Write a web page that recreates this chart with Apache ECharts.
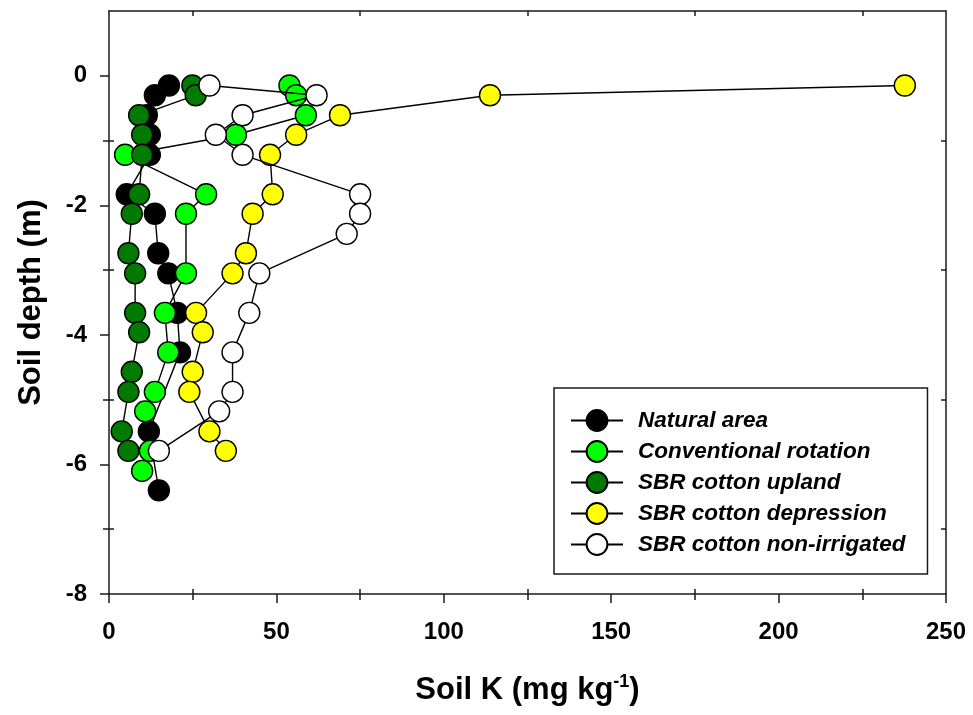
<!DOCTYPE html>
<html>
<head>
<meta charset="utf-8">
<script src="https://cdn.jsdelivr.net/npm/echarts@6/dist/echarts.min.js"></script>
<style>
  html, body { margin: 0; padding: 0; background: #fff; }
  #chart { width: 973px; height: 715px; }
</style>
</head>
<body>
<div id="chart"></div>
<script>
// Soil potassium profiles by land use (depth in m, K in mg/kg)
const seriesNames = [
  'Natural area',
  'Conventional rotation',
  'SBR cotton upland',
  'SBR cotton depression',
  'SBR cotton non-irrigated'
];

const depthNatural = [-0.15, -0.30, -0.61, -0.91, -1.22, -1.83, -2.13, -2.74, -3.05, -3.66, -4.27, -5.49, -6.40];
const kNatural     = [17.9, 13.7, 11.3, 12.2, 12.2, 5.3, 13.7, 14.7, 17.7, 20.4, 21.2, 11.9, 14.9];

const depthConventional = [-0.15, -0.30, -0.61, -0.91, -1.22, -1.83, -2.13, -3.05, -3.66, -4.27, -4.88, -5.18, -5.79, -6.10];
const kConventional     = [53.9, 55.9, 58.8, 37.9, 4.8, 29.0, 23.0, 23.0, 16.7, 17.7, 13.7, 10.8, 12.2, 9.9];

const depthUpland = [-0.15, -0.30, -0.61, -0.91, -1.22, -1.83, -2.13, -2.74, -3.05, -3.66, -3.96, -4.57, -4.88, -5.49, -5.79];
const kUpland     = [24.9, 25.9, 9.0, 9.9, 9.9, 9.0, 6.8, 5.8, 7.8, 7.8, 9.0, 6.8, 5.8, 3.8, 5.8];

const depthDepression = [-0.15, -0.30, -0.61, -0.91, -1.22, -1.83, -2.13, -2.74, -3.05, -3.66, -3.96, -4.57, -4.88, -5.49, -5.79];
const kDepression     = [237.7, 113.8, 69.0, 55.9, 48.1, 48.9, 42.9, 40.9, 36.9, 26.0, 28.0, 25.0, 24.0, 30.0, 34.9];

const depthNonIrrigated = [-0.15, -0.30, -0.61, -0.91, -1.22, -1.83, -2.13, -2.44, -3.05, -3.66, -4.27, -4.88, -5.18, -5.79];
const kNonIrrigated     = [30.0, 62.0, 39.9, 31.9, 39.9, 75.0, 75.0, 71.0, 44.9, 41.9, 36.9, 36.9, 32.9, 14.9];

const xMajorTicks = [0, 50, 100, 150, 200, 250];
const xMinorTicks = [25, 75, 125, 175, 225];
const yMajorTicks = [-8, -6, -4, -2, 0];
const yMinorTicks = [-7, -5, -3, -1];

const fillColors = ['#000000', '#00ff00', '#007a00', '#ffff00', '#ffffff'];

const profiles = [
  [kNatural, depthNatural],
  [kConventional, depthConventional],
  [kUpland, depthUpland],
  [kDepression, depthDepression],
  [kNonIrrigated, depthNonIrrigated]
];

const FONT = '"Liberation Sans", Arial, sans-serif';
const AXIS_COLOR = '#1a1a1a';
const axisLineStyle = { color: AXIS_COLOR, width: 1.5 };
const plotRect = { left: 109, right: 27, top: 11, bottom: 121, containLabel: false };

function pairs(xs, ys) {
  return xs.map((x, i) => [x, ys[i]]);
}

// Bare value axis: only what the caller switches on is drawn
function tickAxis(range, extra) {
  return Object.assign({
    type: 'value',
    gridIndex: 0,
    splitLine: { show: false },
    axisLine: { show: false, onZero: false, lineStyle: axisLineStyle },
    axisLabel: { show: false },
    axisTick: { show: false }
  }, range, extra);
}

function ticks(values, inside, length) {
  return { show: true, inside: inside, length: length, lineStyle: axisLineStyle, customValues: values };
}

const xRange = { min: 0, max: 250 };
const yRange = { min: -8, max: 1 };

const chart = echarts.init(document.getElementById('chart'), null, { renderer: 'canvas' });

chart.setOption({
  animation: false,
  backgroundColor: '#ffffff',
  // three overlapping grids so minor ticks can cross the axis line
  grid: [plotRect, plotRect, plotRect],
  xAxis: [
    tickAxis(xRange, {
      gridIndex: 0,
      position: 'bottom',
      axisLine: { show: true, onZero: false, lineStyle: axisLineStyle },
      axisTick: ticks(xMajorTicks, false, 9),
      axisLabel: {
        show: true, margin: 26, customValues: xMajorTicks,
        color: '#000', fontFamily: FONT, fontWeight: 'bold', fontSize: 24
      },
      name: 'Soil K (mg kg{sup|-1})',
      nameLocation: 'middle',
      nameGap: 79,
      nameTextStyle: {
        color: '#000', fontFamily: FONT, fontWeight: 'bold', fontSize: 31,
        rich: {
          sup: { fontFamily: FONT, fontWeight: 'bold', fontSize: 18, color: '#000', padding: [0, 0, 16, 0] }
        }
      }
    }),
    tickAxis(xRange, {
      gridIndex: 0,
      position: 'top',
      axisLine: { show: true, onZero: false, lineStyle: axisLineStyle },
      axisTick: ticks(xMinorTicks, true, 5)
    }),
    tickAxis(xRange, { gridIndex: 1, position: 'bottom', axisTick: ticks(xMinorTicks, false, 6) }),
    tickAxis(xRange, { gridIndex: 2, position: 'bottom', axisTick: ticks(xMinorTicks, true, 5) })
  ],
  yAxis: [
    tickAxis(yRange, {
      gridIndex: 0,
      position: 'left',
      axisLine: { show: true, onZero: false, lineStyle: axisLineStyle },
      axisTick: ticks(yMajorTicks, false, 9),
      axisLabel: {
        show: true, margin: 22, customValues: yMajorTicks,
        color: '#000', fontFamily: FONT, fontWeight: 'bold', fontSize: 24
      },
      name: 'Soil depth (m)',
      nameLocation: 'middle',
      nameGap: 62,
      nameRotate: 90,
      nameTextStyle: { color: '#000', fontFamily: FONT, fontWeight: 'bold', fontSize: 31 }
    }),
    tickAxis(yRange, {
      gridIndex: 0,
      position: 'right',
      axisLine: { show: true, onZero: false, lineStyle: axisLineStyle },
      axisTick: ticks(yMinorTicks, true, 5)
    }),
    tickAxis(yRange, { gridIndex: 1, position: 'left', axisTick: ticks(yMinorTicks, false, 6) }),
    tickAxis(yRange, { gridIndex: 2, position: 'left', axisTick: ticks(yMinorTicks, true, 5) })
  ],
  legend: {
    orient: 'vertical',
    left: 554,
    top: 388,
    padding: [21, 22, 18, 16],
    borderColor: AXIS_COLOR,
    borderWidth: 1.5,
    itemWidth: 52,
    itemHeight: 26,
    itemGap: 8,
    selectedMode: false,
    data: seriesNames,
    textStyle: {
      color: '#000', fontFamily: FONT, fontWeight: 'bold', fontStyle: 'italic', fontSize: 22.5,
      padding: [0, 0, 0, 10]
    }
  },
  series: profiles.map((p, i) => ({
    name: seriesNames[i],
    type: 'line',
    xAxisIndex: 0,
    yAxisIndex: 0,
    z: 2 + i,
    data: pairs(p[0], p[1]),
    symbol: 'circle',
    symbolSize: 21,
    showAllSymbol: true,
    lineStyle: { color: '#000', width: 1.4 },
    itemStyle: { color: fillColors[i], borderColor: '#000', borderWidth: 1.4 },
    emphasis: { disabled: true }
  }))
});
</script>
</body>
</html>
